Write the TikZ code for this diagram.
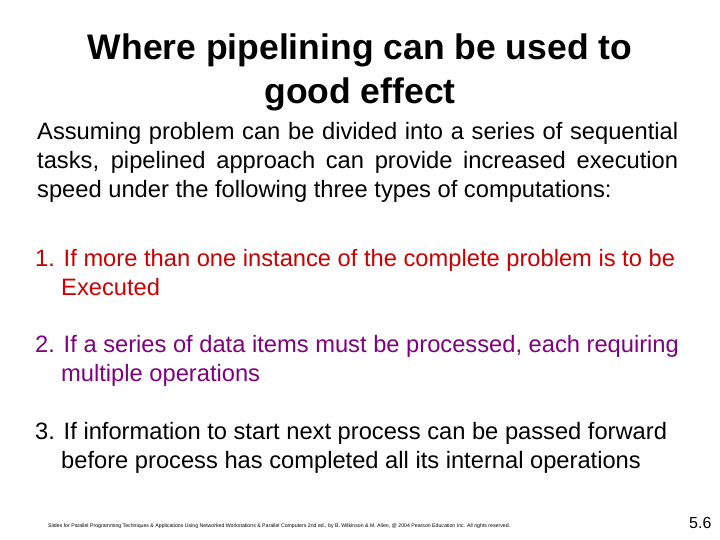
\documentclass[tikz,border=0pt]{standalone}
\usepackage{fontspec}
\setmainfont{Liberation Sans}
\definecolor{itemred}{RGB}{204,0,0}
\definecolor{itempurple}{RGB}{128,0,128}
\begin{document}
\begin{tikzpicture}[x=1pt,y=-1pt,
  title/.style={font=\fontsize{35.5}{40}\selectfont\bfseries, anchor=center, inner sep=0},
  line/.style={font=\fontsize{23.7}{28}\selectfont, anchor=base west, inner sep=0},
  foot/.style={font=\fontsize{5.2}{6}\selectfont, anchor=base west, inner sep=0}]
\useasboundingbox[fill=white] (0,0) rectangle (720,540);
\node[title] (t1) at (360,50) {Where pipelining can be used to};
\node[title] (t2) at (360,94) {good effect};
\node[line] (b1) at (37,140) {\makebox[641pt][s]{Assuming problem can be divided into a series of sequential}};
\node[line] (b2) at (37,169) {\makebox[641pt][s]{tasks, pipelined approach can provide increased execution}};
\node[line] (b3) at (37,198) {speed under the following three types of computations:};
\node[line, text=itemred] (i1) at (35,266) {1. If more than one instance of the complete problem is to be};
\node[line, text=itemred] (i1b) at (61,295) {Executed};
\node[line, text=itempurple] (i2) at (35,352) {2. If a series of data items must be processed, each requiring};
\node[line, text=itempurple] (i2b) at (61,381) {multiple operations};
\node[line] (i3) at (35,439) {3. If information to start next process can be passed forward};
\node[line] (i3b) at (61,468) {before process has completed all its internal operations};
\node[foot] (f) at (48,527) {Slides for Parallel Programming Techniques \& Applications Using Networked Workstations \& Parallel Computers 2nd ed., by B. Wilkinson \& M. Allen, @ 2004 Pearson Education Inc. All rights reserved.};
\node[font=\fontsize{16}{18}\selectfont, anchor=base west, inner sep=0] (pg) at (689,528) {5.6};
\end{tikzpicture}
\end{document}
